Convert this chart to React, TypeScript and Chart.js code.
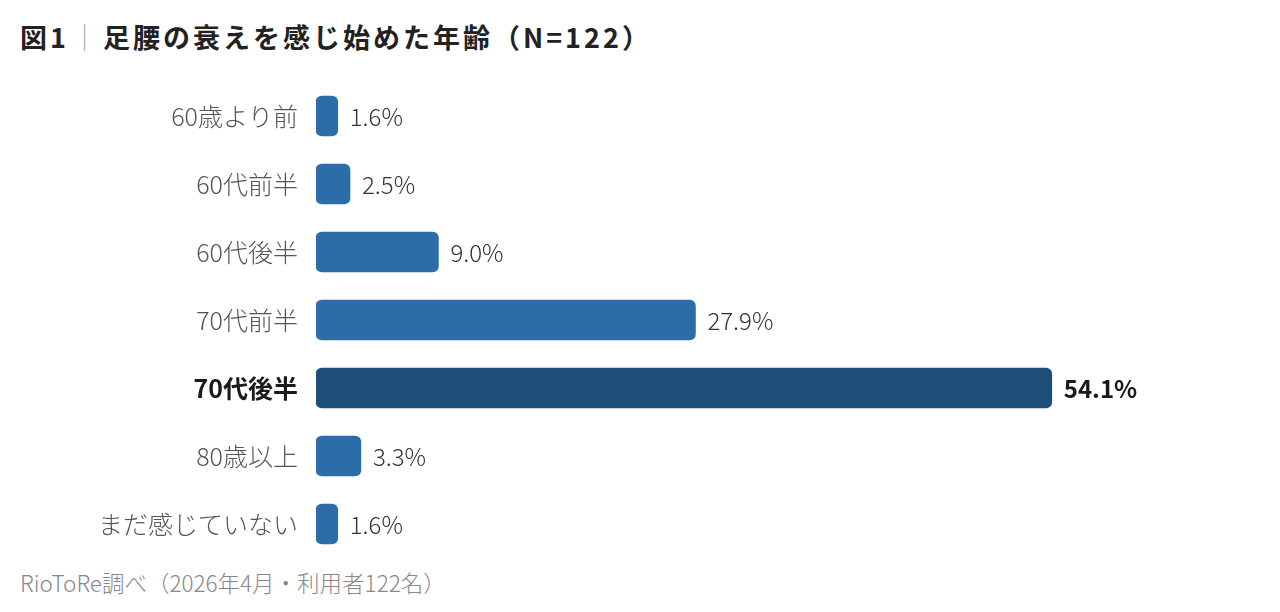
import React, { useEffect, useRef } from "react";
import { Chart, registerables } from "chart.js";

Chart.register(...registerables);

const categories = ["60歳より前", "60代前半", "60代後半", "70代前半", "70代後半", "80歳以上", "まだ感じていない"];
const values = [1.6, 2.5, 9.0, 27.9, 54.1, 3.3, 1.6];
const valueLabels = ["1.6%", "2.5%", "9.0%", "27.9%", "54.1%", "3.3%", "1.6%"];
const highlightIndex = 4;

const FONT = '"Noto Sans CJK JP", "Noto Sans", sans-serif';

const valueLabelPlugin = {
  id: "valueLabels",
  afterDatasetsDraw(chart: any) {
    const ctx = chart.ctx;
    const meta = chart.getDatasetMeta(0);
    ctx.save();
    ctx.textBaseline = "middle";
    ctx.textAlign = "left";
    meta.data.forEach((bar: any, i: number) => {
      const hl = i === highlightIndex;
      ctx.font = `${hl ? "bold" : "300"} 24px ${FONT}`;
      ctx.fillStyle = hl ? "#1a1a1a" : "#333333";
      ctx.fillText(valueLabels[i], bar.x + 12, bar.y + 1);
    });
    ctx.restore();
  },
};

export default function App() {
  const canvasRef = useRef<HTMLCanvasElement | null>(null);

  useEffect(() => {
    if (!canvasRef.current) return;
    const chart = new Chart(canvasRef.current, {
      type: "bar",
      data: {
        labels: categories,
        datasets: [
          {
            data: values,
            backgroundColor: values.map((_, i) => (i === highlightIndex ? "#1e4d78" : "#2c6ca8")),
            borderRadius: 6,
            borderSkipped: false,
            barThickness: 40,
          },
        ],
      },
      options: {
        indexAxis: "y",
        animation: false,
        responsive: false,
        maintainAspectRatio: false,
        layout: { padding: { left: 0, right: 148, top: 0, bottom: 0 } },
        plugins: {
          legend: { display: false },
          tooltip: { enabled: false },
          title: { display: false },
        },
        scales: {
          x: {
            display: false,
            min: 0,
            max: 60,
          },
          y: {
            grid: { display: false, drawTicks: false },
            border: { display: false },
            afterFit(scale: any) {
              scale.width = 316;
              scale.paddingTop = 0;
              scale.paddingBottom = 0;
            },
            ticks: {
              padding: 18,
              font: (c: any) => ({
                family: FONT,
                size: 25,
                weight: c.index === highlightIndex ? "bold" : "300",
              }),
              color: (c: any) => (c.index === highlightIndex ? "#1a1a1a" : "#555555"),
            },
          },
        },
      },
      plugins: [valueLabelPlugin],
    } as any);
    return () => chart.destroy();
  }, []);

  return (
    <div
      style={{
        position: "fixed",
        left: 0,
        top: 0,
        width: 1280,
        height: 612,
        background: "#ffffff",
        fontFamily: FONT,
        overflow: "hidden",
      }}
    >
      <div
        style={{
          position: "absolute",
          left: 20,
          top: 17,
          fontSize: 27,
          fontWeight: "bold",
          color: "#222222",
          lineHeight: "40px",
          letterSpacing: "3px",
          whiteSpace: "nowrap",
        }}
      >
        図1<span style={{ color: "#aaaaaa", fontWeight: "normal", margin: "0 2px" }}>｜</span>足腰の衰えを感じ始めた年齢（N=122）
      </div>
      <canvas
        ref={canvasRef}
        width={1280}
        height={476}
        style={{ position: "absolute", left: 0, top: 82, width: 1280, height: 476 }}
      />
      <div
        style={{
          position: "absolute",
          left: 20,
          top: 565,
          fontSize: 22.5,
          fontWeight: 300,
          color: "#888888",
          lineHeight: "34px",
          whiteSpace: "nowrap",
        }}
      >
        RioToRe調べ（2026年4月・利用者122名）
      </div>
    </div>
  );
}
